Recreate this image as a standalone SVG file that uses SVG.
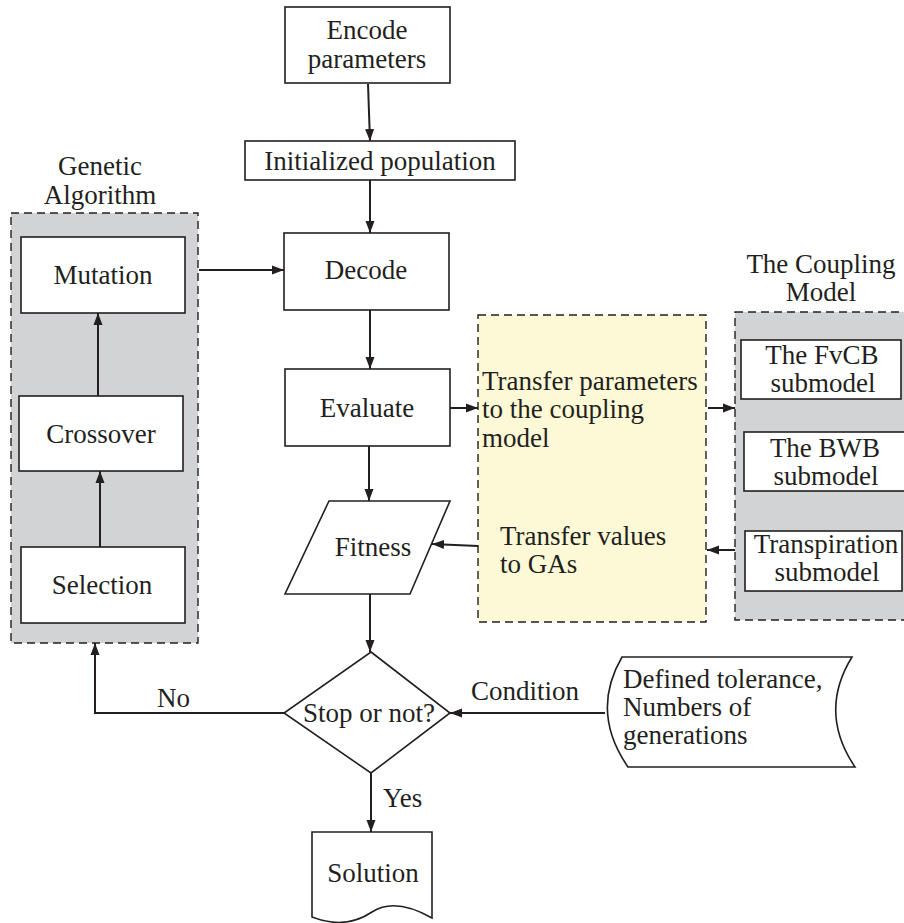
<svg xmlns="http://www.w3.org/2000/svg" width="904" height="923" viewBox="0 0 904 923">
<defs>
<style>
text{font-family:'Liberation Serif','DejaVu Serif',serif;font-size:27px;fill:#231f20}
.c{text-anchor:middle}
.box{fill:#fff;stroke:#231f20;stroke-width:1.6}
.grp{fill:#d1d3d4;stroke:#231f20;stroke-width:1.4;stroke-dasharray:8 5}
.yel{fill:#fdf9d6;stroke:#231f20;stroke-width:1.4;stroke-dasharray:8 5}
.ln{fill:none;stroke:#231f20;stroke-width:2}
</style>
<marker id="ah" viewBox="0 0 12 10" refX="12" refY="5" markerWidth="12" markerHeight="10" markerUnits="userSpaceOnUse" orient="auto">
<path d="M0,0.5 L12,5 L0,9.5 Z" fill="#231f20"/>
</marker>
</defs>
<rect width="904" height="923" fill="#fff"/>

<g id="genetic-algorithm">
<text class="c" x="100" y="175">Genetic</text>
<text class="c" x="100" y="204">Algorithm</text>
<rect class="grp" x="11" y="213" width="187" height="430"/>
</g>
<g id="coupling-model">
<text class="c" x="821" y="273">The Coupling</text>
<text class="c" x="821" y="301">Model</text>
<rect class="grp" x="735" y="312" width="180" height="308"/>
</g>
<g id="transfer">
<rect class="yel" x="478" y="315" width="228" height="307"/>
<text x="482" y="390">Transfer parameters</text>
<text x="482" y="418">to the coupling</text>
<text x="482" y="447">model</text>
<text x="500" y="545">Transfer values</text>
<text x="500" y="573">to GAs</text>
</g>

<g id="encode">
<rect class="box" x="285" y="7" width="165" height="76"/>
<text class="c" x="367" y="39">Encode</text>
<text class="c" x="367" y="68">parameters</text>
</g>
<g id="init">
<rect class="box" x="245" y="141" width="270" height="39"/>
<text class="c" x="380" y="170">Initialized population</text>
</g>
<g id="decode">
<rect class="box" x="284" y="233" width="165" height="77"/>
<text class="c" x="366" y="279">Decode</text>
</g>
<g id="evaluate">
<rect class="box" x="285" y="369" width="165" height="77"/>
<text class="c" x="367" y="417">Evaluate</text>
</g>
<g id="fitness">
<path class="box" d="M329,501 H450 L410,594 H285 Z"/>
<text class="c" x="373" y="556">Fitness</text>
</g>
<g id="mutation">
<rect class="box" x="21" y="237" width="164" height="76"/>
<text class="c" x="103" y="284">Mutation</text>
</g>
<g id="crossover">
<rect class="box" x="19" y="396" width="164" height="75"/>
<text class="c" x="101" y="443">Crossover</text>
</g>
<g id="selection">
<rect class="box" x="21" y="547" width="164" height="76"/>
<text class="c" x="102" y="594">Selection</text>
</g>
<g id="fvcb">
<rect class="box" x="741" y="340" width="160" height="59"/>
<text class="c" x="822" y="364">The FvCB</text>
<text class="c" x="823" y="392">submodel</text>
</g>
<g id="bwb">
<rect class="box" x="744" y="432" width="165" height="59"/>
<text class="c" x="825" y="457">The BWB</text>
<text class="c" x="826" y="485">submodel</text>
</g>
<g id="transpiration">
<rect class="box" x="745" y="531" width="157" height="60"/>
<text class="c" x="826" y="553">Transpiration</text>
<text class="c" x="827" y="581">submodel</text>
</g>
<g id="stop">
<path class="box" d="M371,652 L450,713 L371,773 L284,713 Z"/>
<text class="c" x="369" y="722">Stop or not?</text>
</g>
<g id="tolerance">
<path class="box" d="M622,657 H852 Q818,712 855,767 H628 Q590,712 622,657 Z"/>
<text x="623" y="688">Defined tolerance,</text>
<text x="623" y="716">Numbers of</text>
<text x="623" y="744">generations</text>
</g>
<g id="solution">
<path class="box" d="M312,832 H432 V918 Q395,897 372,912 Q345,930 312,917 Z"/>
<text class="c" x="373" y="882">Solution</text>
</g>

<g id="connectors">
<line class="ln" x1="368" y1="84" x2="370" y2="141" marker-end="url(#ah)"/>
<line class="ln" x1="370" y1="180" x2="370" y2="233" marker-end="url(#ah)"/>
<line class="ln" x1="199" y1="270" x2="284" y2="270" marker-end="url(#ah)"/>
<line class="ln" x1="370" y1="310" x2="370" y2="369" marker-end="url(#ah)"/>
<line class="ln" x1="369" y1="446" x2="369" y2="501" marker-end="url(#ah)"/>
<line class="ln" x1="450" y1="408" x2="478" y2="408" marker-end="url(#ah)"/>
<line class="ln" x1="708" y1="408" x2="735" y2="408" marker-end="url(#ah)"/>
<line class="ln" x1="735" y1="550" x2="707" y2="550" marker-end="url(#ah)"/>
<line class="ln" x1="478" y1="546" x2="432" y2="544" marker-end="url(#ah)"/>
<line class="ln" x1="98" y1="396" x2="98" y2="313" marker-end="url(#ah)"/>
<line class="ln" x1="100" y1="547" x2="100" y2="471" marker-end="url(#ah)"/>
<line class="ln" x1="370" y1="594" x2="370" y2="652" marker-end="url(#ah)"/>
<line class="ln" x1="605" y1="713" x2="450" y2="713" marker-end="url(#ah)"/>
<polyline class="ln" points="284,713 95,713 95,643" marker-end="url(#ah)"/>
<line class="ln" x1="371" y1="773" x2="371" y2="832" marker-end="url(#ah)"/>
<text x="471" y="700">Condition</text>
<text x="157" y="707">No</text>
<text x="383" y="807">Yes</text>
</g>
</svg>
